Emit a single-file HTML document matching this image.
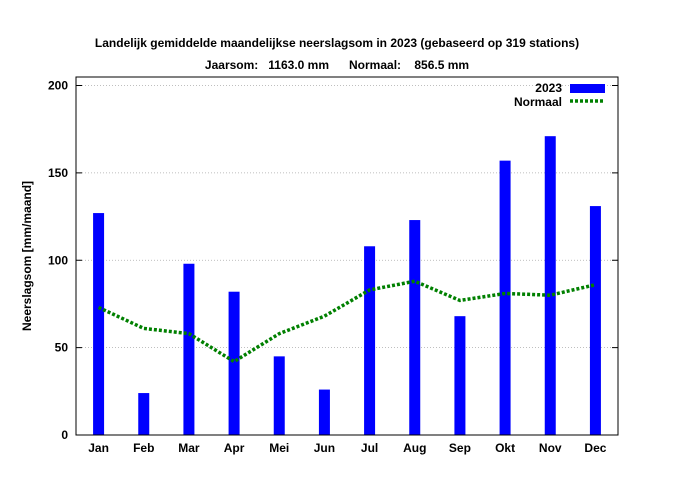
<!DOCTYPE html>
<html><head><meta charset="utf-8"><style>
body{margin:0;background:#fff;}
svg text{font-family:"Liberation Sans",sans-serif;font-weight:bold;font-size:12px;fill:#000;}
</style></head><body>
<svg id="c" width="674" height="492">
<text x="337" y="47" text-anchor="middle">Landelijk gemiddelde maandelijkse neerslagsom in 2023 (gebaseerd op 319 stations)</text>
<text x="337" y="69" text-anchor="middle" xml:space="preserve">Jaarsom:   1163.0 mm      Normaal:    856.5 mm</text>
<text transform="translate(31,256) rotate(-90)" text-anchor="middle">Neerslagsom [mm/maand]</text>
<g id="grid"></g><g id="bars"></g><g id="line"></g><g id="axes"></g>
<g>
<text x="562" y="92" text-anchor="end">2023</text>
<rect x="570" y="84" width="35" height="9" fill="#0000ff"/>
<text x="562" y="106" text-anchor="end">Normaal</text>
<line x1="570" y1="101" x2="605" y2="101" stroke="#008000" stroke-width="3.5" stroke-dasharray="3,2"/>
</g>
</svg>
<script>
const months=["Jan","Feb","Mar","Apr","Mei","Jun","Jul","Aug","Sep","Okt","Nov","Dec"];
const values2023=[127,24,98,82,45,26,108,123,68,157,171,131];
const normaal=[73,61,58,42,58,68,83,88,77,81,80,86];
const yTicks=[0,50,100,150,200];
const NS="http://www.w3.org/2000/svg";
const L=76,R=618,T=77,B=435,Y0=435,Ymax=200,YTop=85.5;
const xs=i=>L+(R-L)/12*(i+0.5);
const ys=v=>Y0-(Y0-YTop)*v/Ymax;
function mk(t,a,p){const e=document.createElementNS(NS,t);for(const k in a)e.setAttribute(k,a[k]);p.appendChild(e);return e;}
const grid=document.getElementById('grid'),bars=document.getElementById('bars'),line=document.getElementById('line'),axes=document.getElementById('axes');
yTicks.forEach(v=>{
 if(v>0){const g=mk('line',{x1:L,x2:R,y1:ys(v),y2:ys(v),stroke:'#aaa','stroke-width':0.8,'stroke-dasharray':'1,2'},grid);
 
 }
 const t=mk('text',{x:L-8,y:ys(v)+4,'text-anchor':'end'},axes);t.textContent=v;
 
 
 mk('line',{x1:L,x2:L+6,y1:ys(v),y2:ys(v),stroke:'#000'},axes);
 mk('line',{x1:R,x2:R-6,y1:ys(v),y2:ys(v),stroke:'#000'},axes);
});
values2023.forEach((v,i)=>{
 const r=mk('rect',{x:xs(i)-5.5,y:ys(v),width:11,height:Y0-ys(v),fill:'#0000ff'},bars);
 
 
 const t=mk('text',{x:xs(i),y:452,'text-anchor':'middle'},axes);t.textContent=months[i];
 
 
});
const pl=mk('polyline',{points:normaal.map((v,i)=>xs(i)+','+ys(v)).join(' '),fill:'none',stroke:'#008000','stroke-width':3.5,'stroke-dasharray':'3,2'},line);


const box=mk('rect',{x:L,y:T,width:R-L,height:B-T,fill:'none',stroke:'#000','stroke-width':1},axes);


</script>
</body></html>
